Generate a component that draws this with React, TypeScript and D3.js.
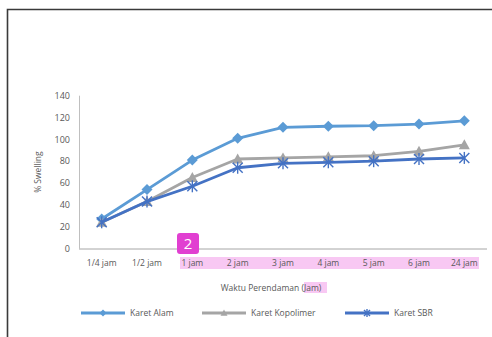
import React from "react";
import * as d3 from "d3";

const categories = ["1/4 jam", "1/2 jam", "1 jam", "2 jam", "3 jam", "4 jam", "5 jam", "6 jam", "24 jam"];
const karetAlam = [27, 54, 81, 101, 111, 112, 112.5, 114, 117];
const karetKopolimer = [24, 43, 65, 82, 83, 84, 85, 89, 95];
const karetSBR = [24, 43, 57, 74, 78, 79, 80, 82, 83];
const yTicks = [0, 20, 40, 60, 80, 100, 120, 140];

const seriesNames = ["Karet Alam", "Karet Kopolimer", "Karet SBR"];
const seriesColors = ["#5B9BD5", "#A5A5A5", "#4472C4"];
const seriesMarkers = ["diamond", "triangle", "star"];

const W = 492;
const H = 337;
const left = 79;
const right = 487;
const top = 95.7;
const bottom = 248.5;
const font = "'Open Sans', 'Liberation Sans', sans-serif";
const textColor = "#595959";

function Marker({ type, x, y, color, s = 5.5 }: { type: string; x: number; y: number; color: string; s?: number }) {
  if (type === "diamond") {
    return <path d={`M${x},${y - s}L${x + s},${y}L${x},${y + s}L${x - s},${y}Z`} fill={color} />;
  }
  if (type === "triangle") {
    return <path d={`M${x},${y - s}L${x + s},${y + s * 0.8}L${x - s},${y + s * 0.8}Z`} fill={color} />;
  }
  const r = s - 0.5;
  return (
    <g stroke={color} strokeWidth={1.4}>
      <line x1={x - r} y1={y - r} x2={x + r} y2={y + r} />
      <line x1={x - r} y1={y + r} x2={x + r} y2={y - r} />
      <line x1={x} y1={y - r - 1} x2={x} y2={y + r + 1} />
    </g>
  );
}

export default function App() {
  const x = d3.scaleBand<string>().domain(categories).range([left, right]);
  const y = d3.scaleLinear().domain([0, 140]).range([bottom, top]);
  const cx = (c: string) => (x(c) as number) + x.bandwidth() / 2;
  const series = [karetAlam, karetKopolimer, karetSBR];
  const line = d3
    .line<number>()
    .x((_, i) => cx(categories[i]))
    .y((d) => y(d));

  const legendX = [81, 202, 345];

  return (
    <svg
      width={W}
      height={H}
      style={{ position: "absolute", left: 0, top: 0, background: "#fff" }}
      fontFamily={font}
    >
      {/* outer frame */}
      <path d={`M7.5,${H}V9.5H${W}`} fill="none" stroke="#3a3a3a" strokeWidth={1.6} />

      {/* y ticks */}
      {yTicks.map((t) => (
        <text key={t} x={70} y={y(t)} dy="0.35em" textAnchor="end" fontSize={9} fill={textColor}>
          {t}
        </text>
      ))}
      <text
        transform={`translate(41,${(top + bottom) / 2}) rotate(-90)`}
        textAnchor="middle"
        fontSize={8.5}
        fill={textColor}
      >
        % Swelling
      </text>

      {/* axes */}
      <line x1={left + 0.5} x2={left + 0.5} y1={top} y2={bottom} stroke="#BFBFBF" />
      <line x1={left} x2={right} y1={bottom + 0.5} y2={bottom + 0.5} stroke="#A6A6A6" />

      {/* highlighted labels */}
      <rect x={180} y={257} width={299} height={12} fill="#F8C8F3" />
      {categories.map((c) => (
        <text key={c} x={cx(c)} y={266} textAnchor="middle" fontSize={8.5} fill={textColor}>
          {c}
        </text>
      ))}

      <rect x={304} y={282} width={23} height={11} fill="#F8C8F3" />
      <text x={271} y={290.5} textAnchor="middle" fontSize={8.5} fill={textColor}>
        Waktu Perendaman (Jam)
      </text>

      {/* series */}
      {series.map((vals, si) => (
        <g key={si}>
          <path d={line(vals) || ""} fill="none" stroke={seriesColors[si]} strokeWidth={2.8} strokeLinejoin="round" />
          {vals.map((v, i) => (
            <Marker key={i} type={seriesMarkers[si]} x={cx(categories[i])} y={y(v)} color={seriesColors[si]} />
          ))}
        </g>
      ))}

      {/* badge */}
      <rect x={177} y={233} width={22} height={21} rx={3} fill="#E13FD1" />
      <text x={188} y={248.5} textAnchor="middle" fontSize={15} fill="#fff">
        2
      </text>

      {/* legend */}
      {seriesNames.map((n, i) => (
        <g key={n}>
          <line x1={legendX[i]} x2={legendX[i] + 44} y1={313} y2={313} stroke={seriesColors[i]} strokeWidth={2.8} />
          <Marker type={seriesMarkers[i]} x={legendX[i] + 22} y={313} color={seriesColors[i]} s={3.5} />
          <text x={legendX[i] + 49} y={316} fontSize={8.5} fill={textColor}>
            {n}
          </text>
        </g>
      ))}
    </svg>
  );
}
